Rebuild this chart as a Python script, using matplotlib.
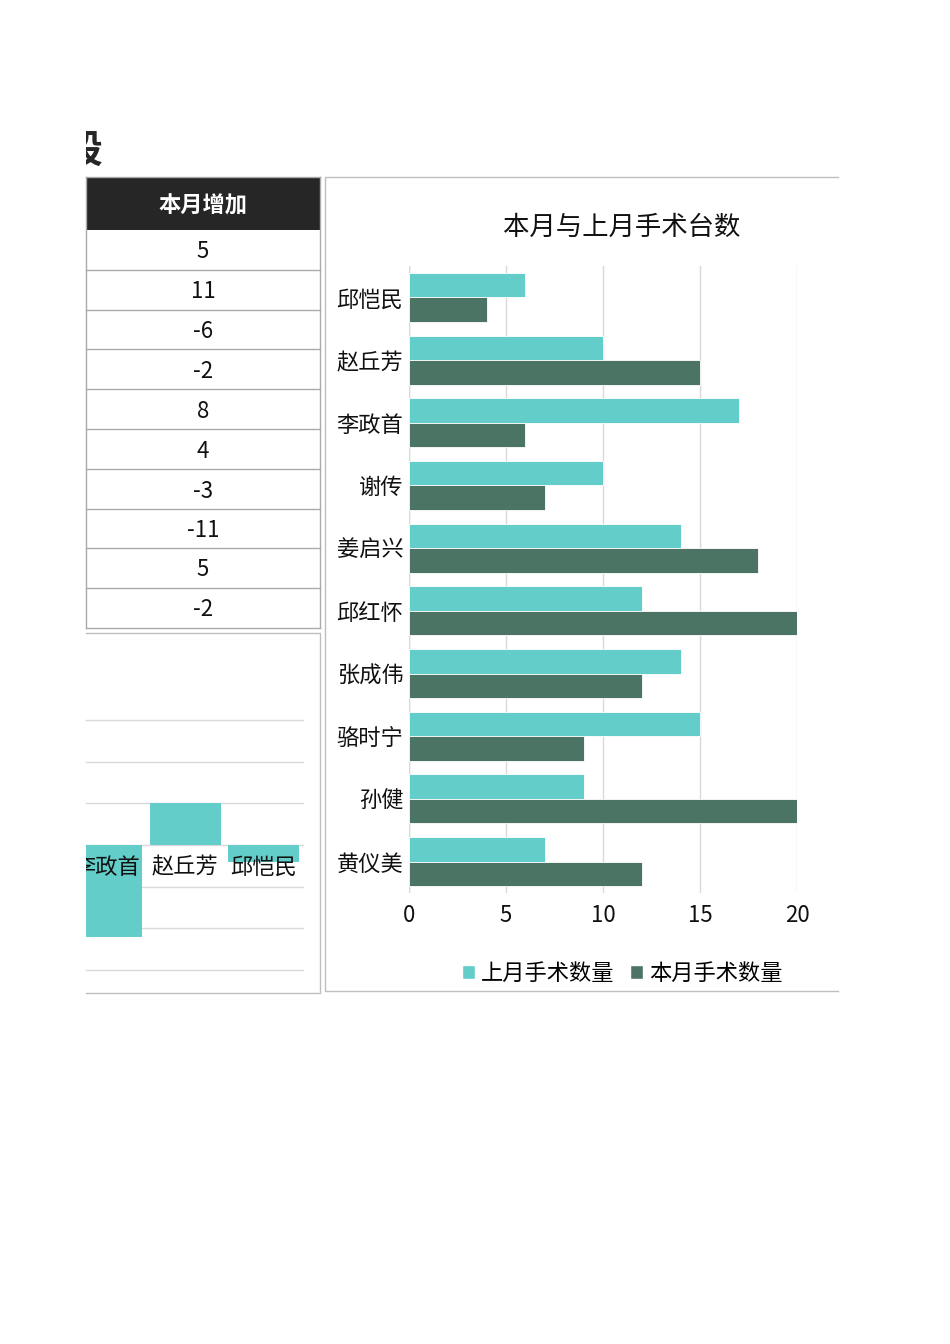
import numpy as np
import matplotlib
matplotlib.use('Agg')
import matplotlib.pyplot as plt
from matplotlib.patches import Rectangle, Patch

plt.rcParams['font.family'] = ['Noto Sans CJK SC', 'DejaVu Sans']

W, H = 950, 1344

# data (table order = first row at the bottom of the chart)
names = ['黄仪美', '孙健', '骆时宁', '张成伟', '邱红怀', '姜启兴', '谢传', '李政首', '赵丘芳', '邱恺民']
last_month = [7, 9, 15, 14, 12, 14, 10, 17, 10, 6]
this_month = [12, 20, 9, 12, 20, 18, 7, 6, 15, 4]
increase = [5, 11, -6, -2, 8, 4, -3, -11, 5, -2]
xticks_vals = [0, 5, 10, 15, 20]
left_grid = [15, 10, 5, 0, -5, -10, -15]

teal = '#62cdc9'
dark = '#4b7464'
grid_c = '#d9d9d9'
frame_c = '#bfbfbf'


def rect(x0, y0, x1, y1):
    return [x0 / W, 1 - y1 / H, (x1 - x0) / W, (y1 - y0) / H]


fig = plt.figure(figsize=(W / 100, H / 100), dpi=100)
bg = fig.add_axes([0, 0, 1, 1])
bg.set_xlim(0, W)
bg.set_ylim(H, 0)
bg.axis('off')

# clipped title fragment
tax = fig.add_axes(rect(86, 110, 320, 175))
tax.axis('off')
tax.set_xlim(86, 320)
tax.set_ylim(175, 110)
tax.text(102, 152, '段', fontsize=28, fontweight='bold', ha='right', va='center',
         color='#262626', clip_on=True)

# table
bg.add_patch(Rectangle((86, 177), 234, 53, facecolor='#262626', edgecolor='none'))
bg.text(203, 206, '本月增加', fontsize=16, fontweight='bold', color='white',
        ha='center', va='center')
rows = [230, 270, 310, 349, 389, 429, 469, 509, 548, 588, 628]
for y in rows[1:]:
    bg.plot([86, 320], [y, y], color='#aaaaaa', lw=1)
bg.plot([86, 86], [177, 628], color='#aaaaaa', lw=1)
bg.plot([320, 320], [177, 628], color='#aaaaaa', lw=1)
bg.plot([86, 320], [177, 177], color='#aaaaaa', lw=1)
for i, v in enumerate(increase):
    yc = (rows[i] + rows[i + 1]) / 2 + 2
    bg.text(203, yc, str(v), fontsize=16, ha='center', va='center', color='#111111')

# frames
bg.plot([86, 320, 320, 86], [633, 633, 993, 993], color=frame_c, lw=1)
bg.plot([838, 325, 325, 838], [177, 177, 991, 991], color=frame_c, lw=1)

# left partial column chart (only its right part is visible)
ax2 = fig.add_axes(rect(86, 720, 303, 970))
idx = np.arange(len(names))
ax2.bar(idx, increase, width=0.9, color=teal, zorder=2)
for g in left_grid:
    ax2.axhline(g, color=grid_c, lw=1, zorder=1, clip_on=False)
left_lim = 9.5 - 217 / 78.5
ax2.set_xlim(left_lim, 9.5)
ax2.set_ylim(-15, 15)
ax2.axis('off')
for i, n in enumerate(names):
    if i + 0.45 < left_lim:
        continue
    ax2.text(i, -1.3, n, fontsize=16, ha='center', va='top', color='#111111',
             zorder=3, clip_on=True)

# right horizontal bar chart
ax = fig.add_axes(rect(409, 266, 797, 893))
h = 0.39
ax.barh(idx + h / 2, last_month, height=h, color=teal, edgecolor='white', lw=0.6,
        label='上月手术数量', zorder=2)
ax.barh(idx - h / 2, this_month, height=h, color=dark, edgecolor='white', lw=0.6,
        label='本月手术数量', zorder=2)
ax.set_xlim(0, 20)
ax.set_ylim(-0.5, len(names) - 0.5)
ax.set_xticks(xticks_vals)
ax.set_yticks(idx)
ax.set_yticklabels(names)
ax.tick_params(length=0, labelsize=16, colors='#111111')
ax.tick_params(axis='x', pad=8)
ax.tick_params(axis='y', pad=4)
ax.grid(axis='x', color=grid_c, lw=1, zorder=0)
ax.set_axisbelow(True)
for s in ax.spines.values():
    s.set_visible(False)
ax.axvline(0, color=grid_c, lw=1, zorder=1)

fig.text(622 / W, 1 - 227 / H, '本月与上月手术台数', fontsize=19, ha='center',
         va='center', color='#111111')

handles = [Patch(facecolor=teal, edgecolor='white'), Patch(facecolor=dark, edgecolor='white')]
fig.legend(handles, ['上月手术数量', '本月手术数量'], loc='center',
           bbox_to_anchor=(622 / W, 1 - 973 / H), ncol=2, frameon=False,
           fontsize=16, handlelength=0.6, handleheight=0.6, handletextpad=0.25,
           columnspacing=0.7)

fig.savefig('out.png', dpi=100)
